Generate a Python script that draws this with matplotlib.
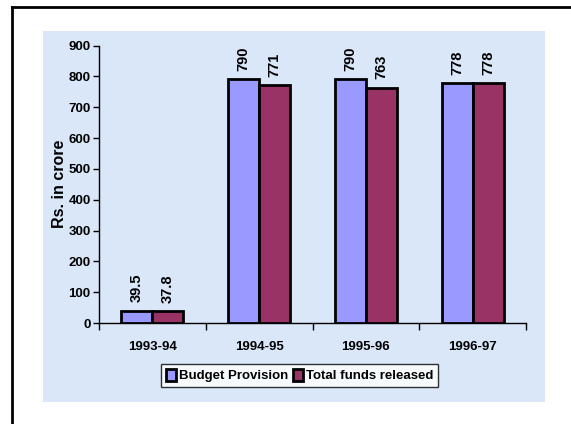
import matplotlib
matplotlib.use("Agg")
import matplotlib.pyplot as plt
from matplotlib.patches import Rectangle
from matplotlib.lines import Line2D

categories = ["1993-94", "1994-95", "1995-96", "1996-97"]
budget = [39.5, 790, 790, 778]
released = [37.8, 771, 763, 778]
budget_labels = ["39.5", "790", "790", "778"]
released_labels = ["37.8", "771", "763", "778"]
series_names = ["Budget Provision", "Total funds released"]

plt.rcParams['font.family'] = ['Liberation Sans', 'DejaVu Sans']
plt.rcParams['font.weight'] = 'bold'

W, H = 571, 424
fig = plt.figure(figsize=(W / 100, H / 100), dpi=100)
fig.patch.set_facecolor("white")

# light-blue panel behind the chart
panel = Rectangle((43 / W, 1 - 402 / H), (545 - 43) / W, (402 - 31) / H,
                  transform=fig.transFigure, facecolor="#d9e7f9", edgecolor="none", zorder=-5)
fig.patches.append(panel)

# outer frame (left and top visible)
fig.lines.append(Line2D([12 / W, 12 / W], [0, 1 - 7 / H], transform=fig.transFigure,
                        color="black", linewidth=2, zorder=-4))
fig.lines.append(Line2D([12 / W, 1], [1 - 7 / H, 1 - 7 / H], transform=fig.transFigure,
                        color="black", linewidth=2, zorder=-4))

ax = fig.add_axes([99 / W, 1 - 323 / H, (526 - 99) / W, (323 - 45.5) / H])
ax.set_zorder(2)
ax.set_facecolor("none")
ax.patch.set_alpha(0)

x = list(range(len(categories)))
bw = 0.29
xb = [i - bw / 2 for i in x]
xr = [i + bw / 2 for i in x]
b1 = ax.bar(xb, budget, width=bw, color="#9999ff", edgecolor="black", linewidth=2,
            label=series_names[0], zorder=3)
b2 = ax.bar(xr, released, width=bw, color="#993366", edgecolor="black", linewidth=2,
            label=series_names[1], zorder=3)

for xi, v, lab in zip(xb, budget, budget_labels):
    ax.annotate(lab, (xi, v), xytext=(0, 6), textcoords="offset points",
                rotation=90, ha="center", va="bottom", fontsize=10.5, fontweight="bold")
for xi, v, lab in zip(xr, released, released_labels):
    ax.annotate(lab, (xi, v), xytext=(0, 6), textcoords="offset points",
                rotation=90, ha="center", va="bottom", fontsize=10.5, fontweight="bold")

ax.set_xlim(-0.5, 3.5)
ax.set_ylim(0, 900)
ax.set_yticks(range(0, 901, 100))
ax.tick_params(axis="y", labelsize=9.5, length=4, width=1, pad=2)
ax.set_xticks([-0.5, 0.5, 1.5, 2.5, 3.5])
ax.set_xticklabels([])
ax.set_xticks(x, minor=True)
ax.set_xticklabels(categories, minor=True, fontsize=9.5, fontweight="bold")
ax.tick_params(axis="x", which="major", length=5, width=1, direction="out")
ax.tick_params(axis="x", which="minor", length=0, pad=13)
for lab in ax.get_yticklabels():
    lab.set_fontweight("bold")

for s in ["top", "right"]:
    ax.spines[s].set_visible(False)
ax.spines["left"].set_linewidth(1)
ax.spines["bottom"].set_linewidth(1)

ax.set_ylabel("Rs. in crore", fontsize=11.5, fontweight="bold", labelpad=1)

leg = fig.legend(handles=[b1, b2], labels=series_names, loc="center",
                 bbox_to_anchor=((163 + 436) / 2 / W, 1 - (361 + 390) / 2 / H),
                 ncol=2, frameon=True, fancybox=False,
                 handlelength=0.75, handleheight=1.0, handletextpad=0.2, columnspacing=0.4,
                 borderpad=0.4, borderaxespad=0, edgecolor="black",
                 prop={"weight": "bold", "size": 9.5})
leg.get_frame().set_linewidth(1)
leg.get_frame().set_facecolor("white")
leg.set_zorder(5)

fig.savefig("out.png", dpi=100)
